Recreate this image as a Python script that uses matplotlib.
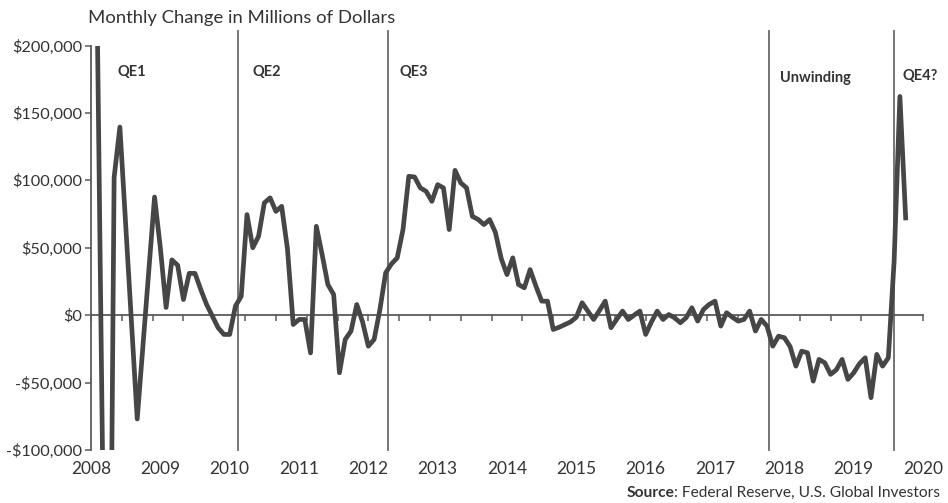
import numpy as np
import matplotlib
matplotlib.use("Agg")
import matplotlib.pyplot as plt
from matplotlib.ticker import FixedLocator, FuncFormatter, NullFormatter

plt.rcParams["font.family"] = ["Lato", "DejaVu Sans"]

# ── Data: monthly change in Fed balance sheet, $ millions, from Jan 2008 ─────
start_year = 2008
monthly_change = [
    480000, 250000, -110000, -420000, 102000, 139500, 67000, -5000, -77000, -22000,
    33000, 87600, 50000, 5700, 41000, 37000, 11600, 31000, 31000, 19000,
    8000, -700, -9300, -14300, -14300, 6700, 14000, 74600, 50000, 58500,
    83300, 87000, 77000, 80700, 49300, -6900, -3200, -3200, -28000, 65900,
    45000, 22700, 15300, -42700, -18000, -11800, 7900, -5000, -23000, -18000,
    4000, 31400, 38000, 42500, 63500, 103000, 102500, 94400, 91900, 84400,
    96800, 94400, 63500, 107400, 98100, 94400, 73300, 71000, 67200, 70900,
    61300, 42000, 30100, 42500, 22700, 20300, 33800, 21600, 10400, 10400,
    -10600, -9000, -7000, -5000, -1500, 9200, 3000, -3200, 3500, 10400,
    -9300, -3000, 3000, -3200, 0, 3000, -14300, -5000, 3000, -3200,
    500, -2000, -5600, -1900, 5500, -4400, 4200, 8000, 10400, -8100,
    1800, -1500, -4400, -3200, 3000, -11800, -3200, -8100, -23000, -15600,
    -16700, -23300, -37800, -26700, -27900, -48900, -32800, -35300, -43900, -40500,
    -32800, -47600, -42800, -36000, -31600, -61200, -29100, -37800, -31600, 40000,
    162200, 72100,
]

year_ticks = list(range(2008, 2021))
y_ticks = [-100000, -50000, 0, 50000, 100000, 150000, 200000]

# program start markers (vertical lines) and their labels
event_x = [2010.12, 2012.28, 2017.78, 2019.58]
period_labels = ["QE1", "QE2", "QE3", "Unwinding", "QE4?"]
period_label_x = [2008.38, 2010.33, 2012.45, 2017.94, 2019.70]
period_label_y = [180700, 180700, 180700, 176000, 177500]

x = start_year + np.arange(len(monthly_change)) / 12

# ── Figure ────────────────────────────────────────────────────────────────────
TXT = "#333333"
GRID = "#5a5a5a"

fig = plt.figure(figsize=(9.48, 5.03), dpi=100)
ax = fig.add_axes([91 / 948, 53 / 503, 832 / 948, 404.5 / 503])

ax.plot(x, monthly_change, color="#464646", lw=3.4, zorder=3)

ax.set_xlim(2008, 2020)
ax.set_ylim(-100000, 200000)

for xv in event_x:
    ax.plot([xv, xv], [-100000, 210500], color="#6a6a6a", lw=1.3,
            clip_on=False, zorder=2)

for lab, lx, ly in zip(period_labels, period_label_x, period_label_y):
    ax.text(lx, ly, lab, fontsize=10.5, fontweight="bold", color=TXT,
            ha="left", va="center")

# spines: left axis + zero line carrying the small tick marks
ax.spines["top"].set_visible(False)
ax.spines["right"].set_visible(False)
ax.spines["left"].set_color(GRID)
ax.spines["left"].set_linewidth(1.3)
ax.spines["bottom"].set_position(("data", 0))
ax.spines["bottom"].set_color(GRID)
ax.spines["bottom"].set_linewidth(1.3)

ax.xaxis.set_major_locator(FixedLocator(np.linspace(2008, 2020, 28)))
ax.xaxis.set_major_formatter(NullFormatter())
ax.tick_params(axis="x", direction="out", length=4, width=1.1, color=GRID)

ax.set_yticks(y_ticks)
ax.yaxis.set_major_formatter(FuncFormatter(
    lambda v, _: f"-${abs(v):,.0f}" if v < 0 else f"${v:,.0f}"))
ax.tick_params(axis="y", direction="out", length=4.5, width=1.1, color=GRID,
               labelsize=11.8, labelcolor=TXT, pad=2)

# year labels below the plot area
sec = ax.secondary_xaxis(0)
sec.set_xticks(year_ticks)
sec.set_xticklabels([str(y) for y in year_ticks])
sec.spines["bottom"].set_visible(False)
sec.tick_params(axis="x", length=0, pad=8, labelsize=12.5, labelcolor=TXT)

fig.text(88 / 948, 1 - 18 / 503, "Monthly Change in Millions of Dollars",
         fontsize=13.3, color=TXT, ha="left", va="center")

src = fig.text(940 / 948, 1 - 493 / 503, ": Federal Reserve, U.S. Global Investors",
               fontsize=11.2, color=TXT, ha="right", va="center")
ax.annotate("Source", xy=(0, 0.5), xycoords=src, fontsize=11.2,
            fontweight="bold", color=TXT, ha="right", va="center")

fig.savefig("out.png", dpi=100)
